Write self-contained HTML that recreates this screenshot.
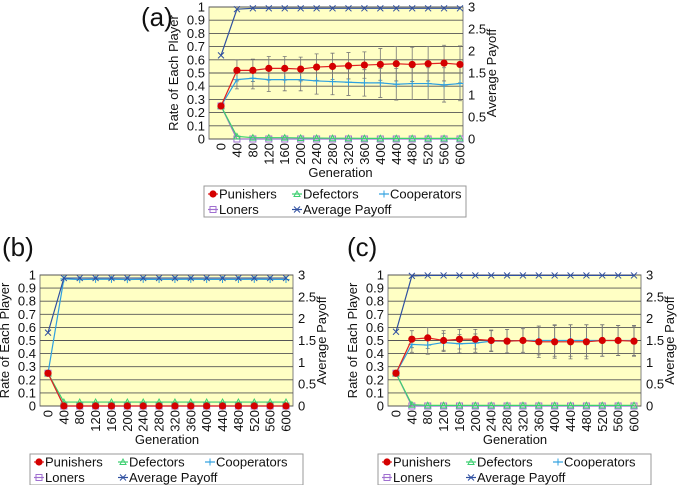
<!DOCTYPE html>
<html><head><meta charset="utf-8">
<style>
html,body{margin:0;padding:0;background:#fff;}
svg{display:block;font-family:"Liberation Sans",sans-serif;}
</style></head>
<body>
<svg id="fig" width="685" height="485" viewBox="0 0 685 485" xmlns="http://www.w3.org/2000/svg"></svg>
<script>
const categories = [0,40,80,120,160,200,240,280,320,360,400,440,480,520,560,600];
const yTicks = [0,0.1,0.2,0.3,0.4,0.5,0.6,0.7,0.8,0.9,1];
const y2Ticks = [0,0.5,1,1.5,2,2.5,3];

const aPunishers = [0.25,0.52,0.52,0.535,0.535,0.53,0.545,0.55,0.555,0.56,0.565,0.57,0.565,0.57,0.575,0.565];
const aPunErr = [0,0.08,0.085,0.09,0.09,0.09,0.1,0.1,0.1,0.1,0.12,0.13,0.13,0.13,0.135,0.14];
const aCooperators = [0.25,0.45,0.46,0.45,0.45,0.45,0.44,0.435,0.43,0.425,0.425,0.415,0.42,0.42,0.41,0.42];
const aCoopErr = [0,0.07,0.08,0.09,0.085,0.085,0.1,0.1,0.1,0.1,0.11,0.12,0.12,0.12,0.13,0.13];
const aDefectors = [0.25,0.02,0.01,0.01,0.01,0.008,0.007,0.006,0.006,0.005,0.005,0.005,0.005,0.005,0.005,0.005];
const aLoners = [0.25,0,0,0,0,0,0,0,0,0,0,0,0,0,0,0];
const aPayoff = [1.9,2.95,2.97,2.97,2.97,2.97,2.97,2.97,2.97,2.97,2.97,2.97,2.97,2.97,2.97,2.97];

const bPunishers = [0.25,0,0,0,0,0,0,0,0,0,0,0,0,0,0,0];
const bCooperators = [0.25,0.97,0.965,0.967,0.967,0.965,0.967,0.966,0.966,0.967,0.966,0.966,0.966,0.967,0.966,0.966];
const bDefectors = [0.25,0.03,0.03,0.03,0.03,0.03,0.03,0.03,0.03,0.03,0.03,0.03,0.03,0.03,0.03,0.03];
const bLoners = [0.25,0,0,0,0,0,0,0,0,0,0,0,0,0,0,0];
const bPayoff = [1.68,2.93,2.93,2.93,2.93,2.93,2.93,2.93,2.93,2.93,2.93,2.93,2.93,2.93,2.93,2.93];

const cPunishers = [0.25,0.51,0.52,0.5,0.51,0.51,0.5,0.495,0.5,0.49,0.49,0.49,0.49,0.5,0.5,0.495];
const cPunErr = [0,0.065,0.08,0.075,0.075,0.075,0.08,0.09,0.09,0.12,0.125,0.13,0.13,0.12,0.115,0.115];
const cCooperators = [0.25,0.47,0.465,0.485,0.475,0.48,0.495,0.495,0.5,0.5,0.5,0.5,0.5,0.5,0.5,0.5];
const cCoopErr = [0,0.06,0.07,0.07,0.07,0.07,0.08,0.09,0.1,0.11,0.12,0.12,0.12,0.12,0.115,0.115];
const cDefectors = [0.25,0.01,0.005,0.005,0.005,0.005,0.005,0.005,0.005,0.005,0.005,0.005,0.005,0.005,0.005,0.005];
const cLoners = [0.25,0,0,0,0,0,0,0,0,0,0,0,0,0,0,0];
const cPayoff = [1.7,2.98,2.99,2.99,2.99,2.99,2.99,2.99,2.99,2.99,2.99,2.99,2.99,2.99,2.99,2.99];

const NS = "http://www.w3.org/2000/svg";
const fig = document.getElementById('fig');
function mk(tag, attrs, parent, txt){
  const e = document.createElementNS(NS, tag);
  for (const k in attrs) e.setAttribute(k, attrs[k]);
  if (txt !== undefined) e.textContent = txt;
  (parent||fig).appendChild(e);
  return e;
}
const COL = {P:'#e02020', D:'#3ccf70', C:'#2ea0e0', L:'#a070d0', A:'#3050a0'};

function marker(g, type, x, y){
  if (type==='P'){ const m=mk('circle',{cx:x,cy:y,r:3.6,fill:'#d40000'},g);   }
  else if (type==='D'){ const m=mk('path',{d:`M${x-3},${y+2.5}L${x+3},${y+2.5}L${x},${y-3}Z`,fill:'none',stroke:COL.D,'stroke-width':1},g);   }
  else if (type==='C'){ const m=mk('path',{d:`M${x-3.5},${y}L${x+3.5},${y}M${x},${y-3.5}L${x},${y+3.5}`,stroke:COL.C,'stroke-width':1},g);   }
  else if (type==='L'){ const m=mk('rect',{x:x-3,y:y-3,width:6,height:6,fill:'none',stroke:COL.L,'stroke-width':1},g);   }
  else if (type==='A'){ const m=mk('path',{d:`M${x-3},${y-3}L${x+3},${y+3}M${x+3},${y-3}L${x-3},${y+3}`,stroke:COL.A,'stroke-width':1},g);   }
}

function panel(o){
  const g = mk('g',{});
  
  
  const {L,R,T,B,x0,x1} = o;
  const xs = i => x0 + (x1-x0)*i/(categories.length-1);
  const ys = v => B - (B-T)*v;
  const ys2 = v => B - (B-T)*v/3;
  const bg = mk('rect',{x:L,y:T,width:R-L,height:B-T,fill:'#ffffc4',stroke:'#808080','stroke-width':1},g);
   
  yTicks.forEach(v=>{
    const gl = mk('line',{x1:L,x2:R,y1:ys(v),y2:ys(v),stroke:'#555','stroke-width':0.9},g);
     
    const t = mk('text',{x:L-4,y:ys(v)+4.5,'text-anchor':'end','font-size':13,fill:'#111'},g,String(v));
     
  });
  y2Ticks.forEach(v=>{
    const t = mk('text',{x:R+5,y:ys2(v)+4.5,'text-anchor':'start','font-size':13,fill:'#111'},g,String(v));
     
  });
  categories.forEach((c,i)=>{
    const x = xs(i);
    const t = mk('text',{x:0,y:0,'text-anchor':'end','font-size':13,fill:'#111',transform:`translate(${x+4.5},${B+4}) rotate(-90)`},g,String(c));
     
  });
  const yt = mk('text',{x:0,y:0,'text-anchor':'middle','font-size':13,fill:'#111',transform:`translate(${L-31},${(T+B)/2}) rotate(-90)`},g,'Rate of Each Player');
   
  const y2t = mk('text',{x:0,y:0,'text-anchor':'middle','font-size':13,fill:'#111',transform:`translate(${R+33},${(T+B)/2}) rotate(-90)`},g,'Average Payoff');
   
  const xt = mk('text',{x:(x0+x1)/2,y:B+38,'text-anchor':'middle','font-size':13,fill:'#111'},g,'Generation');
   
  const lab = mk('text',{x:o.labX,y:o.labY,'font-size':26,fill:'#111'},g,o.label);
   

  [[o.C,o.CE],[o.P,o.PE]].forEach(([arr,err])=>{
    if(!err) return;
    arr.forEach((v,i)=>{
      if(!err[i]) return;
      const x=xs(i);
      const e = mk('path',{d:`M${x},${ys(v-err[i])}L${x},${ys(v+err[i])}M${x-2},${ys(v-err[i])}L${x+2},${ys(v-err[i])}M${x-2},${ys(v+err[i])}L${x+2},${ys(v+err[i])}`,stroke:'#777','stroke-width':0.8,fill:'none'},g);
       
    });
  });
  const series = [['L',o.L_,ys],['D',o.D,ys],['C',o.C,ys],['P',o.P,ys],['A',o.A,ys2]];
  series.forEach(([k,arr,sc])=>{
    const p = mk('polyline',{points:arr.map((v,i)=>xs(i)+','+sc(v)).join(' '),fill:'none',stroke:COL[k],'stroke-width':1.2},g);
    
    
    arr.forEach((v,i)=>marker(g,k,xs(i),sc(v)));
  });
  const lg = mk('g',{},g);
   
  const lb = mk('rect',{x:o.lgX,y:o.lgY,width:o.lgW,height:31,fill:'#fff',stroke:'#999','stroke-width':1},lg);
   
  const entries=[['P','Punishers',0,0],['D','Defectors',1,0],['C','Cooperators',2,0],['L','Loners',0,1],['A','Average Payoff',1,1]];
  const colX=[4,88,175];
  entries.forEach(([k,name,c,r])=>{
    const ex=o.lgX+colX[c], ey=o.lgY+8+r*15.5;
    const eg = mk('g',{},lg);
     
    mk('line',{x1:ex,x2:ex+10,y1:ey,y2:ey,stroke:COL[k],'stroke-width':1.2},eg);
    marker(eg,k,ex+5,ey);
    mk('text',{x:ex+11,y:ey+4.5,'font-size':13,fill:'#111'},eg,name);
  });
}

panel({name:'panel-a',label:'(a)',labX:141,labY:26,L:209,R:463,T:7,B:139,x0:221,x1:460,
  P:aPunishers,PE:aPunErr,C:aCooperators,CE:aCoopErr,D:aDefectors,L_:aLoners,A:aPayoff,lgX:204,lgY:186,lgW:262});
panel({name:'panel-b',label:'(b)',labX:2,labY:256,L:40,R:293,T:275,B:406,x0:48,x1:286,
  P:bPunishers,C:bCooperators,D:bDefectors,L_:bLoners,A:bPayoff,lgX:30,lgY:454,lgW:273});
panel({name:'panel-c',label:'(c)',labX:347,labY:256,L:388,R:641,T:275,B:406,x0:396,x1:634,
  P:cPunishers,PE:cPunErr,C:cCooperators,CE:cCoopErr,D:cDefectors,L_:cLoners,A:cPayoff,lgX:378,lgY:454,lgW:273});
</script>
</body></html>
